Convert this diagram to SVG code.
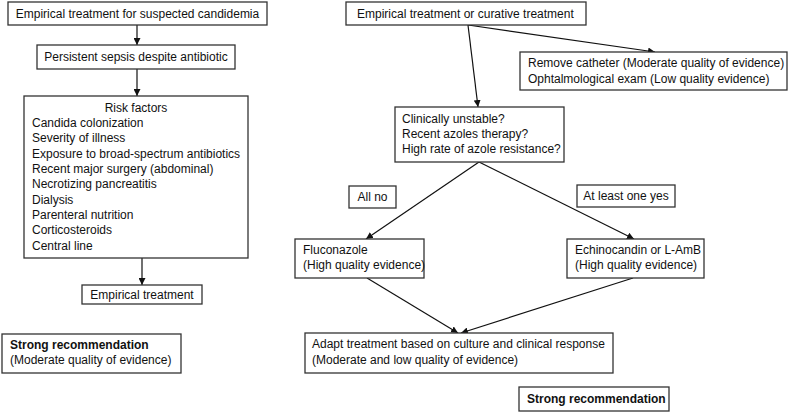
<svg xmlns="http://www.w3.org/2000/svg" width="794" height="413" viewBox="0 0 794 413">
<defs>
<marker id="ah" viewBox="0 0 10 10" refX="10" refY="5" markerWidth="7" markerHeight="7" markerUnits="userSpaceOnUse" orient="auto">
<path d="M0,0 L10,5 L0,10 z" fill="#111"/>
</marker>
<style>
.box{fill:#fff;stroke:#333;stroke-width:1.3}
text{font-family:"Liberation Sans",Arial,sans-serif;font-size:12px;fill:#111}
.b{font-weight:bold}
.c{text-anchor:middle}
.conn line{stroke:#111;stroke-width:1.2;marker-end:url(#ah)}
</style>
</defs>
<rect width="794" height="413" fill="#fff"/>
<g class="conn">
<line x1="137" y1="25" x2="137" y2="45"/>
<line x1="137" y1="69" x2="137" y2="96"/>
<line x1="142" y1="258" x2="142" y2="285"/>
<line x1="468" y1="25" x2="478" y2="107"/>
<line x1="468" y1="25" x2="655" y2="52"/>
<line x1="479" y1="162" x2="366" y2="239"/>
<line x1="479" y1="162" x2="634" y2="239"/>
<line x1="367" y1="278" x2="458" y2="333"/>
<line x1="633" y1="278" x2="461" y2="333"/>
</g>
<g id="n1"><rect class="box" x="8" y="2" width="259" height="23"/><text x="137.5" y="18" class="c">Empirical treatment for suspected candidemia</text></g>
<g id="n2"><rect class="box" x="37" y="45" width="198" height="24"/><text x="136" y="61" class="c">Persistent sepsis despite antibiotic</text></g>
<g id="n3"><rect class="box" x="24" y="96" width="224" height="162"/>
<text x="136" y="112" class="c">Risk factors</text>
<text x="32" y="127">Candida colonization</text>
<text x="32" y="142">Severity of illness</text>
<text x="32" y="158">Exposure to broad-spectrum antibiotics</text>
<text x="32" y="173">Recent major surgery (abdominal)</text>
<text x="32" y="188">Necrotizing pancreatitis</text>
<text x="32" y="204">Dialysis</text>
<text x="32" y="219">Parenteral nutrition</text>
<text x="32" y="234">Corticosteroids</text>
<text x="32" y="250">Central line</text>
</g>
<g id="n4"><rect class="box" x="82" y="285" width="120" height="19"/><text x="142" y="299" class="c">Empirical treatment</text></g>
<g id="n5"><rect class="box" x="2" y="334" width="179" height="39"/><text x="10" y="349" class="b">Strong recommendation</text><text x="10" y="364">(Moderate quality of evidence)</text></g>
<g id="n6"><rect class="box" x="346" y="2" width="240" height="23"/><text x="357" y="18">Empirical treatment or curative treatment</text></g>
<g id="n7"><rect class="box" x="520" y="52" width="267" height="38"/><text x="528" y="67">Remove catheter (Moderate quality of evidence)</text><text x="528" y="83">Ophtalmological exam (Low quality evidence)</text></g>
<g id="n8"><rect class="box" x="395" y="107" width="169" height="55"/><text x="402" y="123">Clinically unstable?</text><text x="402" y="138">Recent azoles therapy?</text><text x="402" y="153">High rate of azole resistance?</text></g>
<g id="n9"><rect class="box" x="349" y="186" width="47" height="22"/><text x="372.5" y="201" class="c">All no</text></g>
<g id="n10"><rect class="box" x="577" y="185" width="98" height="22"/><text x="626" y="200" class="c">At least one yes</text></g>
<g id="n11"><rect class="box" x="295" y="239" width="129" height="39"/><text x="303" y="254">Fluconazole</text><text x="303" y="269">(High quality evidence)</text></g>
<g id="n12"><rect class="box" x="567" y="239" width="137" height="39"/><text x="575" y="254">Echinocandin or L-AmB</text><text x="575" y="269">(High quality evidence)</text></g>
<g id="n13"><rect class="box" x="305" y="333" width="308" height="40"/><text x="312" y="348">Adapt treatment based on culture and clinical response</text><text x="312" y="364">(Moderate and low quality of evidence)</text></g>
<g id="n14"><rect class="box" x="519" y="387" width="150" height="24"/><text x="527" y="403" class="b">Strong recommendation</text></g>
</svg>
